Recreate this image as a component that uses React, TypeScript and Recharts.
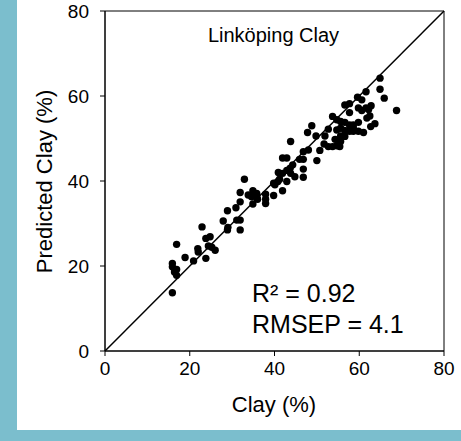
import { ReferenceArea, ReferenceLine, Scatter, ScatterChart, XAxis, YAxis } from 'recharts';

const clayMeasured = [
  15.9, 15.9, 15.9, 16.9, 16.9, 16.9, 16.4, 18.9, 20.9, 21.9,
  22.0, 22.9, 23.8, 23.8, 24.8, 24.4, 25.2, 26.0, 27.9, 28.9,
  28.9, 29.0, 30.9, 31.1, 31.9, 31.9, 31.9, 31.9, 32.9, 33.8,
  34.6, 34.9, 34.9, 35.8, 35.8, 36.0, 37.9, 37.9, 37.9, 39.8,
  39.8, 40.1, 40.8, 40.9, 41.2, 41.9, 41.9, 41.9, 42.9, 42.9,
  42.9, 43.7, 43.8, 43.8, 44.3, 44.8, 45.9, 46.8, 46.8, 46.8,
  46.8, 47.8, 48.0, 48.8, 49.8, 50.0, 50.7, 51.7, 51.9, 52.7,
  52.7, 53.7, 53.7, 54.3, 54.7, 54.7, 54.7, 55.6, 55.6, 55.6,
  55.6, 56.6, 56.6, 56.6, 56.6, 57.7, 57.7, 57.7, 57.7, 58.6,
  58.6, 58.6, 59.6, 59.8, 59.8, 59.8, 60.6, 60.6, 61.0, 61.6,
  61.6, 61.8, 62.2, 62.5, 62.8, 62.7, 63.7, 64.9, 64.9, 65.9,
  68.8, 55.4,
];

const clayPredicted = [
  13.7, 20.6, 19.8, 25.1, 19.2, 17.8, 18.6, 22.0, 21.2, 24.1,
  23.3, 29.2, 21.8, 26.5, 26.9, 24.7, 24.4, 23.7, 30.6, 33.0,
  28.5, 29.1, 33.7, 30.8, 37.3, 35.1, 28.5, 30.8, 40.4, 36.7,
  36.3, 37.7, 34.6, 36.3, 37.1, 35.7, 36.9, 34.7, 35.7, 36.6,
  39.5, 39.1, 39.9, 42.0, 40.4, 37.7, 41.8, 45.4, 45.4, 39.9,
  42.5, 43.0, 49.3, 41.8, 43.8, 41.0, 45.1, 45.1, 46.9, 40.9,
  42.8, 51.4, 47.3, 53.0, 50.6, 44.8, 47.2, 48.7, 50.6, 52.2,
  48.1, 55.2, 48.1, 49.8, 54.4, 52.0, 48.3, 54.0, 50.6, 49.3,
  52.4, 53.8, 51.9, 50.5, 57.9, 58.2, 56.1, 53.2, 51.7, 53.2,
  52.4, 51.7, 59.7, 51.7, 53.8, 57.2, 59.1, 56.6, 51.4, 61.0,
  57.2, 54.8, 56.8, 55.3, 57.7, 52.8, 53.5, 64.2, 61.6, 59.5,
  56.6, 48.1,
];

const axisTicks = [0, 20, 40, 60, 80];

const samples = clayMeasured.map((x, i) => ({ x, y: clayPredicted[i] }));

const font = '"Liberation Sans", Arial, sans-serif';
const teal = '#7bbecd';

const Dot = (props: any) => <circle cx={props.cx} cy={props.cy} r={3.7} fill="#000" />;

export default function App() {
  return (
    <div style={{ position: 'absolute', left: 0, top: 0, width: 461, height: 441, background: '#fff', fontFamily: font }}>
      <ScatterChart width={461} height={441} margin={{ top: 11, right: 17, bottom: 30, left: 45 }}>
        <XAxis
          type="number"
          dataKey="x"
          domain={[0, 80]}
          ticks={axisTicks}
          height={60}
          tickSize={5}
          tickMargin={6}
          axisLine={{ stroke: '#000' }}
          tickLine={{ stroke: '#000' }}
          tick={{ fill: '#000', fontSize: 19, fontFamily: font }}
        />
        <YAxis
          type="number"
          dataKey="y"
          domain={[0, 80]}
          ticks={axisTicks}
          width={60}
          tickSize={5}
          tickMargin={11}
          axisLine={{ stroke: '#000' }}
          tickLine={{ stroke: '#000' }}
          tick={{ fill: '#000', fontSize: 19, fontFamily: font }}
        />
        <ReferenceArea x1={0} x2={80} y1={0} y2={80} fill="none" stroke="#000" strokeWidth={1} />
        <ReferenceLine segment={[{ x: 0, y: 0 }, { x: 80, y: 80 }]} stroke="#000" strokeWidth={1.5} />
        <Scatter data={samples} shape={Dot} isAnimationActive={false} />
      </ScatterChart>

      {/* titles and annotations */}
      <svg width={461} height={441} style={{ position: 'absolute', left: 0, top: 0, pointerEvents: 'none' }}>
        <text x={273.5} y={42} textAnchor="middle" fontSize={20} fill="#000" fontFamily={font}>Linköping Clay</text>
        <text x={252} y={302} fontSize={25} fill="#000" fontFamily={font}>R² = 0.92</text>
        <text x={252} y={333} fontSize={25} fill="#000" fontFamily={font}>RMSEP = 4.1</text>
        <text x={274} y={412} textAnchor="middle" fontSize={22} fill="#000" fontFamily={font}>Clay (%)</text>
        <text x={52} y={181.5} textAnchor="middle" fontSize={22} fill="#000" fontFamily={font} transform="rotate(-90 52 181.5)">
          Predicted Clay (%)
        </text>
      </svg>

      <div style={{ position: 'absolute', left: 0, top: 0, width: 17, height: 441, background: teal }} />
      <div style={{ position: 'absolute', left: 0, top: 430, width: 461, height: 11, background: teal }} />
    </div>
  );
}
